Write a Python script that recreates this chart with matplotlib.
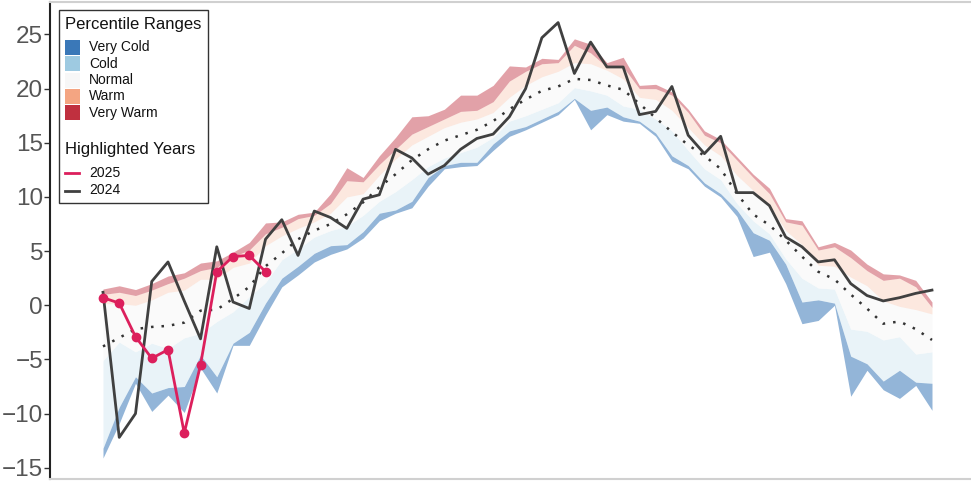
import matplotlib
matplotlib.use("Agg")
import matplotlib.pyplot as plt
from matplotlib.patches import Rectangle
from matplotlib.lines import Line2D

plt.rcParams['font.family'] = ['Liberation Sans', 'DejaVu Sans']

weeks = list(range(1, 53))

# percentile band boundaries (deg C)
p_min = [-14.1, -10.9, -7.2, -9.8, -8.3, -9.9, -5.8, -8.1, -3.7, -3.7, -0.9,
         1.7, 2.8, 4.0, 4.7, 5.2, 6.2, 7.8, 8.5, 9.0, 11.0, 12.6, 12.8, 12.9, 14.3,
         15.6, 16.2, 16.9, 17.6, 19.0, 16.2, 17.6, 17.0, 16.8, 15.6, 13.3, 12.6, 11.0,
         10.0, 8.2, 4.5, 4.9, 2.0, -1.7, -1.4, 0.0, -8.4, -6.0, -7.8, -8.6, -7.4, -9.7]
p_10 = [-13.2, -9.4, -6.6, -8.1, -7.6, -7.5, -4.6, -6.6, -3.5, -2.5, 0.2,
        2.5, 3.6, 4.8, 5.5, 5.6, 6.8, 8.5, 8.8, 9.6, 11.8, 12.9, 13.2, 13.2, 14.9,
        16.1, 16.5, 17.2, 17.9, 19.1, 18.0, 18.3, 17.4, 17.0, 15.9, 13.8, 12.9, 11.3,
        10.3, 8.8, 6.7, 6.0, 3.8, 0.3, 0.5, 0.2, -4.7, -5.4, -7.0, -6.0, -7.1, -7.2]
p_33 = [-5.1, -3.4, -4.3, -3.5, -4.0, -3.0, -2.6, -1.5, -0.6, 0.8, 2.1,
        4.2, 5.2, 6.3, 6.9, 7.3, 8.3, 9.6, 10.5, 11.6, 12.8, 13.6, 14.1, 14.6, 15.5,
        17.0, 17.5, 18.1, 18.7, 20.1, 19.8, 19.4, 18.4, 18.1, 17.2, 16.1, 14.3, 12.6,
        11.6, 9.4, 7.8, 6.6, 4.3, 2.5, 1.6, 1.5, -2.2, -2.4, -3.2, -2.9, -4.5, -4.3]
p_67 = [0.15, 0.15, 0.0, 0.5, 1.2, 1.4, 2.4, 2.4, 3.5, 3.9, 5.5,
        6.4, 7.1, 7.7, 8.5, 10.0, 10.3, 12.0, 13.5, 14.8, 15.6, 16.4, 16.9, 17.2, 17.8,
        19.2, 20.3, 21.1, 21.6, 22.4, 22.3, 21.7, 20.9, 19.2, 19.0, 18.0, 16.4, 14.8,
        13.8, 12.0, 10.6, 9.2, 6.9, 5.6, 3.7, 3.6, 2.6, 1.8, 0.4, -0.1, -0.4, -0.8]
p_90 = [1.0, 1.2, 0.9, 1.4, 2.0, 2.5, 3.2, 3.5, 4.5, 5.1, 6.6,
        7.2, 8.0, 8.3, 9.4, 11.5, 11.4, 13.0, 14.4, 15.8, 16.5, 17.2, 17.9, 18.0, 18.8,
        20.7, 21.6, 22.3, 22.4, 24.0, 23.3, 22.0, 22.0, 20.0, 20.0, 19.4, 17.8, 15.7,
        15.0, 13.4, 11.8, 10.3, 7.7, 7.4, 5.1, 5.4, 4.4, 3.2, 2.3, 2.5, 1.7, -0.2]
p_max = [1.5, 1.8, 1.45, 2.0, 2.7, 3.0, 3.9, 4.1, 4.9, 5.8, 7.6,
         7.7, 8.4, 8.6, 10.3, 12.7, 11.8, 13.8, 15.5, 17.4, 17.5, 18.1, 19.4, 19.4, 20.3,
         22.1, 22.0, 22.8, 22.7, 24.6, 24.1, 22.4, 22.9, 20.3, 20.4, 19.7, 18.1, 16.1,
         15.3, 13.7, 12.1, 10.8, 8.0, 7.8, 5.4, 5.8, 5.1, 3.8, 2.9, 2.8, 2.3, 0.3]
median = [-3.8, -3.0, -2.2, -2.0, -1.9, -1.6, -0.5, -0.4, 0.6, 1.7, 3.6,
          4.8, 6.1, 6.9, 7.5, 8.4, 9.5, 10.9, 12.1, 13.4, 14.4, 15.2, 15.7, 16.2, 17.0,
          18.1, 19.0, 19.8, 20.2, 20.9, 20.8, 20.3, 19.9, 18.6, 17.3, 16.0, 14.8, 13.8,
          12.6, 10.3, 8.4, 7.4, 6.0, 4.5, 3.1, 2.4, 1.0, -0.3, -1.7, -1.5, -2.2, -3.2]

temp_2024 = [1.2, -12.2, -10.0, 2.2, 4.0, 0.4, -3.1, 5.4, 0.3, -0.3, 6.1,
             7.9, 4.6, 8.7, 8.1, 7.1, 9.8, 10.2, 14.4, 13.6, 12.1, 12.9, 14.4, 15.4, 15.8,
             17.4, 20.0, 24.7, 26.1, 21.4, 24.3, 22.0, 22.0, 17.6, 17.9, 20.2, 15.7, 14.0,
             15.6, 10.4, 10.4, 9.2, 6.3, 5.4, 4.0, 4.2, 2.0, 0.9, 0.4, 0.7, 1.1, 1.4]
temp_2025 = [0.7, 0.2, -2.9, -4.9, -4.1, -11.8, -5.5, 3.1, 4.5, 4.6, 3.1]

range_labels = ["Very Cold", "Cold", "Normal", "Warm", "Very Warm"]
range_colors = ["#3a78b8", "#9ecae1", "#f7f7f7", "#f4a582", "#c0303f"]
range_alphas = [0.55, 0.22, 0.6, 0.25, 0.45]
year_labels = ["2025", "2024"]
year_colors = ["#dc1f5c", "#404040"]

W, H = 971, 483
fig = plt.figure(figsize=(W / 100, H / 100), dpi=100)
ax = fig.add_axes([50 / W, 4 / H, 921 / W, 477 / H])

bounds = [p_min, p_10, p_33, p_67, p_90, p_max]
for i in range(5):
    ax.fill_between(weeks, bounds[i], bounds[i + 1], color=range_colors[i],
                    alpha=range_alphas[i], linewidth=0)

ax.plot(weeks, median, color="#333333", linestyle=(0, (1, 3.2)), linewidth=1.8)
ax.plot(weeks, temp_2024, color=year_colors[1], linewidth=2)
ax.plot(weeks[:len(temp_2025)], temp_2025, color=year_colors[0], linewidth=2,
        marker="o", markersize=6)

ax.set_xlim(-2.26, 54.4)
ax.set_ylim(-16.04, 28.0)
ax.set_yticks([-15, -10, -5, 0, 5, 10, 15, 20, 25])
ax.set_xticks([])
ax.tick_params(axis="y", labelsize=17.5, labelcolor="#555555", color="#333333",
               length=4, width=1, pad=1)
for s in ["top", "bottom"]:
    ax.spines[s].set_color("#d0d0d0")
    ax.spines[s].set_linewidth(1.5)
ax.spines["right"].set_visible(False)
ax.spines["left"].set_color("#222222")
ax.spines["left"].set_linewidth(1.5)

# legend (drawn in figure pixel coordinates)
tf = fig.transFigure
def fx(x):
    return x / W
def fy(y):
    return 1 - y / H

fig.patches.append(Rectangle((fx(59), fy(203)), (208 - 59) / W, (203 - 10) / H,
                             transform=tf, facecolor="white", edgecolor="#333333",
                             linewidth=1, zorder=5))
fig.text(fx(65), fy(24), "Percentile Ranges", fontsize=12, va="center", ha="left",
         color="#111111", zorder=6)
rows = [47.5, 63.5, 80, 96, 112.5]
for lab, col, yy in zip(range_labels, range_colors, rows):
    fig.patches.append(Rectangle((fx(65), fy(yy + 7.5)), 15 / W, 15 / H, transform=tf,
                                 facecolor=col, edgecolor="none", zorder=6))
    fig.text(fx(89), fy(yy), lab, fontsize=10, va="center", ha="left",
             color="#111111", zorder=6)
fig.text(fx(65), fy(150), "Highlighted Years", fontsize=12, va="center", ha="left",
         color="#111111", zorder=6)
for lab, col, yy in zip(year_labels, year_colors, [173, 190.5]):
    fig.lines.append(Line2D([fx(65), fx(79)], [fy(yy), fy(yy)], transform=tf,
                            color=col, linewidth=2, zorder=6))
    fig.text(fx(89), fy(yy), lab, fontsize=10, va="center", ha="left",
             color="#111111", zorder=6)

fig.savefig("out.png", dpi=100)
